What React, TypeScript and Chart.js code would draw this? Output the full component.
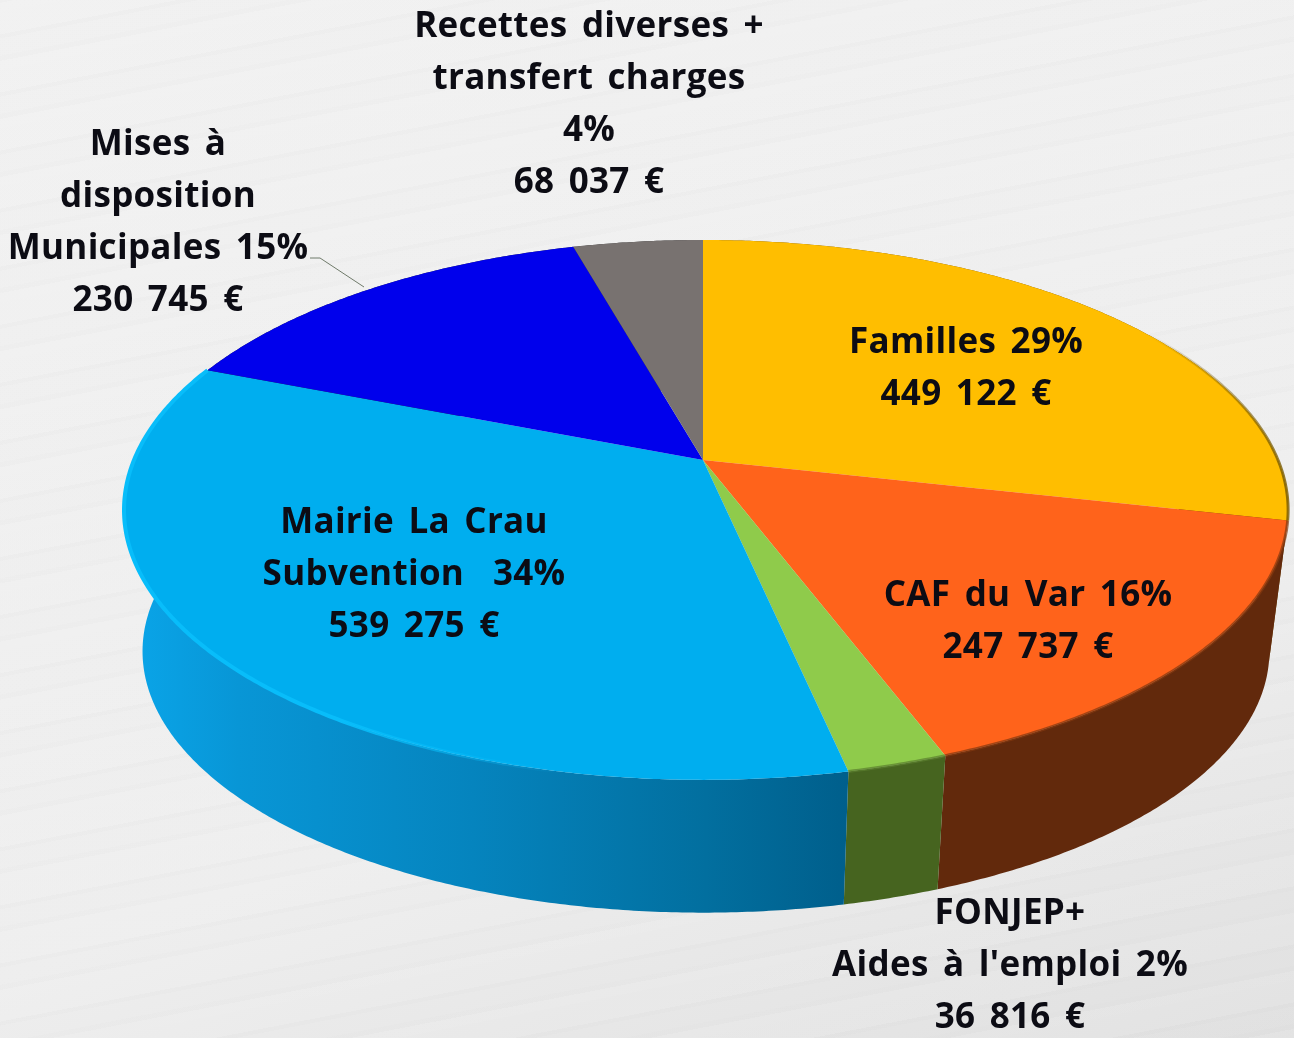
import React, { useEffect, useRef } from "react";
import { Chart, registerables } from "chart.js";

Chart.register(...registerables);

const categories = ["Familles", "CAF du Var", "FONJEP+ Aides à l'emploi", "Mairie La Crau Subvention", "Mises à disposition Municipales", "Recettes diverses + transfert charges"];
const amounts = [449122, 247737, 36816, 539275, 230745, 68037];
const topColors = ["#FFBE00", "#FF631B", "#8FCB4B", "#00AEEF", "#0000EC", "#787270"];
const labelLines = [
  ["Familles 29%", "449 122 €"],
  ["CAF du Var 16%", "247 737 €"],
  ["FONJEP+", "Aides à l'emploi 2%", "36 816 €"],
  ["Mairie La Crau", "Subvention  34%", "539 275 €"],
  ["Mises à", "disposition", "Municipales 15%", "230 745 €"],
  ["Recettes diverses +", "transfert charges", "4%", "68 037 €"],
];
const labelAnchors = [
  [966, 343],
  [1028, 596],
  [1010, 914],
  [414, 523],
  [158, 145],
  [589, 27],
];

const CX = 703, CY = 460, RL = 569, RR = 575, RK = 260.7, P = 0.185, SHRINK = 0.968, DROP = 143, LINE = 52;

const top = (a: number) => {
  const u = Math.cos(a), v = Math.sin(a), w = 1 - P * v;
  return [CX + ((u > 0 ? RR : RL) * u) / w, CY + (RK * v) / w];
};
const bottom = (a: number) => {
  const [x, y] = top(a);
  return [CX + SHRINK * (x - CX), CY + SHRINK * (y - CY) + DROP];
};
const samples = (a0: number, a1: number) => {
  const n = Math.max(2, Math.ceil((a1 - a0) / 0.008));
  return Array.from({ length: n + 1 }, (_, i) => a0 + ((a1 - a0) * i) / n);
};

const wallFill = (ctx: CanvasRenderingContext2D, i: number) => {
  const g = ctx.createLinearGradient(122, 0, 1290, 0);
  if (i === 3) {
    g.addColorStop(0, "#0AA6EA");
    g.addColorStop(0.1, "#0896D6");
    g.addColorStop(0.3, "#0584BE");
    g.addColorStop(0.5, "#026F9F");
    g.addColorStop(0.62, "#005F8C");
    g.addColorStop(1, "#005F8C");
    return g;
  }
  if (i === 2) return "#46641F";
  if (i === 0) return "#6E4A00";
  if (i === 1) return "#62290C";
  return "#333";
};

const rimStyle = (ctx: CanvasRenderingContext2D, i: number) => {
  if (i === 3) {
    const g = ctx.createLinearGradient(122, 0, 560, 0);
    g.addColorStop(0, "#08BDFA");
    g.addColorStop(0.5, "#08BDFA");
    g.addColorStop(1, "rgba(8,189,250,0)");
    return g;
  }
  if (i === 0) {
    const g = ctx.createLinearGradient(1150, 0, 1285, 0);
    g.addColorStop(0, "rgba(120,90,0,0)");
    g.addColorStop(1, "rgba(120,90,0,0.8)");
    return g;
  }
  if (i === 1) return "rgba(130,55,15,0.7)";
  if (i === 2) return "rgba(90,125,45,0.7)";
  return "transparent";
};

const pie3d = {
  id: "pie3d",
  beforeDatasetsDraw(chart: any) {
    const ctx: CanvasRenderingContext2D = chart.ctx;
    const arcs = chart.getDatasetMeta(0).data;
    ctx.save();
    arcs.forEach((arc: any, i: number) => {
      const as = samples(arc.startAngle, arc.endAngle);
      ctx.beginPath();
      as.forEach((a, k) => {
        const [x, y] = top(a);
        k ? ctx.lineTo(x, y) : ctx.moveTo(x, y);
      });
      [...as].reverse().forEach((a) => {
        const [x, y] = bottom(a);
        ctx.lineTo(x, y);
      });
      ctx.closePath();
      ctx.fillStyle = wallFill(ctx, i);
      ctx.fill();
    });
    arcs.forEach((arc: any, i: number) => {
      ctx.beginPath();
      ctx.moveTo(CX, CY);
      samples(arc.startAngle, arc.endAngle).forEach((a) => {
        const [x, y] = top(a);
        ctx.lineTo(x, y);
      });
      ctx.closePath();
      ctx.fillStyle = topColors[i];
      ctx.fill();
    });
    arcs.forEach((arc: any, i: number) => {
      ctx.beginPath();
      samples(arc.startAngle, arc.endAngle).forEach((a, k) => {
        const [x, y] = top(a);
        k ? ctx.lineTo(x, y) : ctx.moveTo(x, y);
      });
      ctx.lineWidth = i === 3 ? 4 : 3;
      ctx.strokeStyle = rimStyle(ctx, i);
      ctx.stroke();
    });
    ctx.restore();
    return false;
  },
  afterDraw(chart: any) {
    const ctx: CanvasRenderingContext2D = chart.ctx;
    ctx.save();
    ctx.strokeStyle = "#6f7a6a";
    ctx.lineWidth = 1;
    ctx.beginPath();
    ctx.moveTo(310, 258);
    ctx.lineTo(320, 258);
    ctx.lineTo(364, 287);
    ctx.stroke();
    ctx.fillStyle = "#0c0c14";
    ctx.font = 'bold 35px "Open Sans"';
    ctx.textAlign = "center";
    ctx.textBaseline = "middle";
    (ctx as any).wordSpacing = "5px";
    (ctx as any).letterSpacing = "0.3px";
    labelLines.forEach((lines, i) => {
      lines.forEach((t, k) => {
        ctx.fillText(t, labelAnchors[i][0], labelAnchors[i][1] + k * LINE);
      });
    });
    ctx.restore();
  },
};

export default function App() {
  const ref = useRef<HTMLCanvasElement>(null);
  useEffect(() => {
    const chart = new Chart(ref.current!, {
      type: "pie",
      data: { labels: categories, datasets: [{ data: amounts, backgroundColor: topColors, borderWidth: 0 }] },
      options: {
        responsive: false,
        animation: false,
        plugins: { legend: { display: false }, tooltip: { enabled: false } },
      },
      plugins: [pie3d],
    } as any);
    return () => chart.destroy();
  }, []);
  return (
    <div
      style={{
        position: "fixed",
        left: 0,
        top: 0,
        width: 1294,
        height: 1038,
        overflow: "hidden",
        background:
          "repeating-linear-gradient(-11deg, rgba(255,255,255,0.12) 0 9px, rgba(225,225,225,0.06) 9px 14px, rgba(255,255,255,0.05) 14px 31px, rgba(215,215,215,0.06) 31px 35px, rgba(255,255,255,0.1) 35px 57px), linear-gradient(160deg, #f0f0f0 0%, #ededed 65%, #dfdfdf 100%)",
      }}
    >
      <canvas ref={ref} width={1294} height={1038} style={{ display: "block", filter: "blur(0.7px)" }} />
    </div>
  );
}
